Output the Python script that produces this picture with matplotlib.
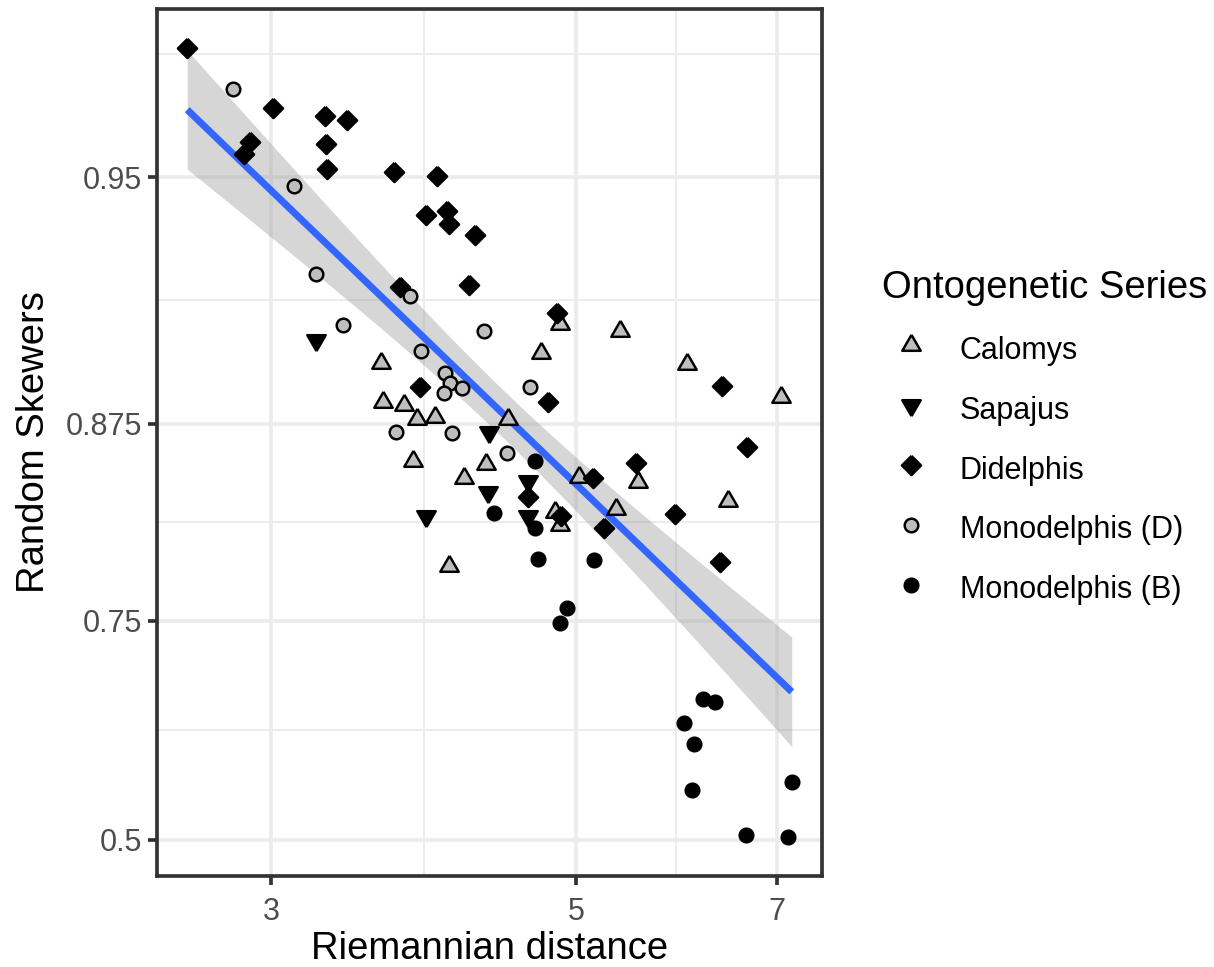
import numpy as np
import matplotlib
matplotlib.use("Agg")
import matplotlib.pyplot as plt
import matplotlib.ticker as ticker
from matplotlib.lines import Line2D

plt.rcParams["font.family"] = ["Liberation Sans", "DejaVu Sans"]

# --- Data (Riemannian distance vs Random Skewers)

calomys_x = [3.604, 4.865, 4.713, 3.620, 3.746, 3.831, 3.945, 4.463, 3.803, 4.298, 4.145,
             5.024, 4.824, 4.865, 4.045, 5.382, 6.018, 7.051, 5.543, 5.347, 6.450]
calomys_y = [0.9001, 0.9132, 0.9037, 0.8847, 0.8833, 0.8771, 0.8780, 0.8771, 0.8573, 0.8556, 0.8484,
             0.8489, 0.8289, 0.8208, 0.7931, 0.9112, 0.8996, 0.8868, 0.8459, 0.8305, 0.8349]

sapajus_x = [3.232, 4.322, 4.614, 4.312, 3.891, 4.614]
sapajus_y = [0.9081, 0.8715, 0.8463, 0.8406, 0.8264, 0.8264]

didelphis_x = [2.607, 3.009, 2.894, 2.867, 3.284, 3.405, 3.292, 3.293, 3.689, 3.961, 3.891, 4.031,
               4.041, 4.224, 4.182, 3.721, 4.843, 3.852, 4.770, 5.142, 4.614, 4.878, 5.243, 6.386,
               6.662, 5.528, 5.902, 6.362]
didelphis_y = [0.9693, 0.9615, 0.9562, 0.9541, 0.9603, 0.9597, 0.9558, 0.9514, 0.9509, 0.9501, 0.9424, 0.9432,
               0.9404, 0.9378, 0.9250, 0.9245, 0.9169, 0.8907, 0.8847, 0.8480, 0.8374, 0.8259, 0.8187, 0.8911,
               0.8639, 0.8560, 0.8276, 0.7958]

monod_x = [2.815, 3.116, 3.234, 3.784, 3.386, 4.288, 3.859, 4.018, 4.050, 4.005, 4.130, 4.633,
           3.701, 4.063, 4.451]
monod_y = [0.9642, 0.9482, 0.9280, 0.9220, 0.9131, 0.9112, 0.9042, 0.8963, 0.8925, 0.8882, 0.8902, 0.8908,
           0.8712, 0.8707, 0.8611]

monob_x = [4.666, 4.358, 4.671, 4.692, 5.157, 4.924, 4.865, 6.187, 6.309, 5.991, 6.092, 6.075,
           6.652, 7.129, 7.177]
monob_y = [0.8573, 0.8283, 0.8187, 0.7979, 0.7974, 0.7608, 0.7483, 0.6766, 0.6728, 0.6504, 0.6255, 0.5684,
           0.5067, 0.5048, 0.5797]

series_names = ["Calomys", "Sapajus", "Didelphis", "Monodelphis (D)", "Monodelphis (B)"]

x_breaks = [3, 5, 7]
x_labels = ["3", "5", "7"]
y_breaks = [0.5, 0.75, 0.875, 0.95]
y_labels = ["0.5", "0.75", "0.875", "0.95"]

# --- Marker shapes (R pch 21-25 look)
tri_up = [(0, 1), (0.866, -0.5), (-0.866, -0.5), (0, 1)]
tri_down = [(0, -1), (0.866, 0.5), (-0.866, 0.5), (0, -1)]
diamond = [(0, 1), (1, 0), (0, -1), (-1, 0), (0, 1)]

grey_fill = "#BEBEBE"
edge_lw = 1.77
styles = {
    "Calomys": dict(marker=tri_up, ms=15.3, mfc=grey_fill),
    "Sapajus": dict(marker=tri_down, ms=15.3, mfc="black"),
    "Didelphis": dict(marker=diamond, ms=13.8, mfc="black"),
    "Monodelphis (D)": dict(marker="o", ms=9.8, mfc=grey_fill),
    "Monodelphis (B)": dict(marker="o", ms=9.8, mfc="black"),
}
data = {
    "Calomys": (calomys_x, calomys_y),
    "Sapajus": (sapajus_x, sapajus_y),
    "Didelphis": (didelphis_x, didelphis_y),
    "Monodelphis (D)": (monod_x, monod_y),
    "Monodelphis (B)": (monob_x, monob_y),
}

# --- Linear fit on the transformed scales (log x, Fisher z y), 95% CI
all_x = np.concatenate([np.asarray(data[k][0]) for k in series_names])
all_y = np.concatenate([np.asarray(data[k][1]) for k in series_names])
u = np.log(all_x)
z = np.arctanh(all_y)
n = len(u)
slope, intercept = np.polyfit(u, z, 1)
resid = z - (intercept + slope * u)
s = np.sqrt(np.sum(resid ** 2) / (n - 2))
sxx = np.sum((u - u.mean()) ** 2)
ug = np.linspace(u.min(), u.max(), 80)
fit = intercept + slope * ug
se = s * np.sqrt(1 / n + (ug - u.mean()) ** 2 / sxx)
t_crit = 1.989  # t quantile, 0.975, df = 83

# --- The visual
fig = plt.figure(figsize=(12.14, 9.67), dpi=100)
ax = fig.add_axes([157 / 1214, 1 - 876 / 967, 665 / 1214, 867 / 967])

ax.set_xscale("log")
ax.set_yscale("function", functions=(np.arctanh, np.tanh))

ax.fill_between(np.exp(ug), np.tanh(fit - t_crit * se), np.tanh(fit + t_crit * se),
                color="#999999", alpha=0.4, lw=0, zorder=2)
ax.plot(np.exp(ug), np.tanh(fit), color="#3366FF", lw=5, zorder=3, solid_capstyle="butt")

for name in series_names:
    xs, ys = data[name]
    st = styles[name]
    ax.plot(xs, ys, ls="none", marker=st["marker"], ms=st["ms"], mfc=st["mfc"],
            mec="black", mew=edge_lw, zorder=4)

# limits: 5% expansion on transformed scales, like ggplot
ur = u.max() - u.min()
ax.set_xlim(np.exp(u.min() - 0.05 * ur), np.exp(u.max() + 0.05 * ur))
zlo = min(z.min(), (fit - t_crit * se).min())
zhi = max(z.max(), (fit + t_crit * se).max())
zr = zhi - zlo
ax.set_ylim(np.tanh(zlo - 0.05 * zr), np.tanh(zhi + 0.05 * zr))

ax.set_xticks(x_breaks)
ax.set_xticklabels(x_labels)
lx = np.log(x_breaks)
ax.set_xticks(np.exp((lx[:-1] + lx[1:]) / 2), minor=True)
ax.xaxis.set_minor_formatter(ticker.NullFormatter())

ax.set_yticks(y_breaks)
ax.set_yticklabels(y_labels)
zb = np.arctanh(y_breaks)
zmin = list((zb[:-1] + zb[1:]) / 2) + [zb[-1] + (zb[-1] - zb[-2]) / 2]
ax.set_yticks(np.tanh(zmin), minor=True)
ax.yaxis.set_minor_formatter(ticker.NullFormatter())

ax.grid(True, which="major", color="#EBEBEB", lw=2.66, zorder=0)
ax.grid(True, which="minor", color="#EBEBEB", lw=1.33, zorder=0)
ax.set_axisbelow(True)

for sp in ax.spines.values():
    sp.set_color("#333333")
    sp.set_linewidth(2.66)
ax.tick_params(which="major", length=6.8, width=2.66, color="#333333",
               labelsize=22, labelcolor="#4D4D4D")
ax.tick_params(axis="x", which="major", pad=8)
ax.tick_params(axis="y", which="major", pad=4)
ax.tick_params(which="minor", length=0)

ax.set_xlabel("Riemannian distance", fontsize=27.5, labelpad=3)
ax.set_ylabel("Random Skewers", fontsize=27.5, labelpad=10)

# --- Legend
handles = [Line2D([], [], ls="none", marker=styles[k]["marker"], ms=styles[k]["ms"],
                  mfc=styles[k]["mfc"], mec="black", mew=edge_lw) for k in series_names]
leg = fig.legend(handles, series_names, loc="upper left",
                 bbox_to_anchor=(882 / 1214, 1 - 270 / 967), bbox_transform=fig.transFigure,
                 frameon=False, fontsize=22, title="Ontogenetic Series", title_fontsize=27.5,
                 alignment="left", borderpad=0, borderaxespad=0, handlelength=1.9,
                 handleheight=1.3, handletextpad=0.65, labelspacing=0.85)

plt.savefig("out.png", dpi=100, facecolor="white")
